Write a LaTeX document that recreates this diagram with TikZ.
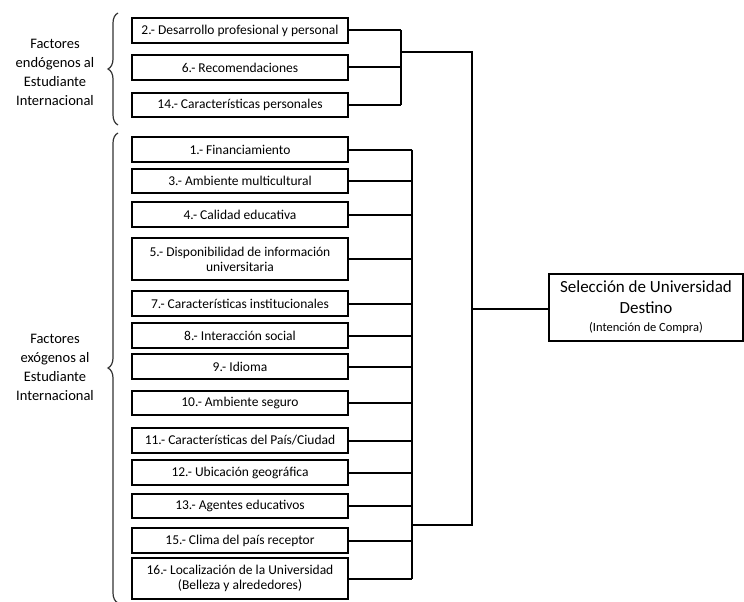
\documentclass[tikz,border=0pt]{standalone}
\usepackage{fontspec}
\setmainfont{Carlito}
\usetikzlibrary{positioning,calc,decorations.pathreplacing}

\begin{document}
\begin{tikzpicture}[x=1pt, y=-1pt,
    factor/.style={draw, line width=2.4pt, minimum width=216pt, inner sep=0pt,
                   align=center, font=\fontsize{13.5}{15}\selectfont},
    link/.style={line width=2pt},
    grupo/.style={align=center, font=\fontsize{14.5}{19}\selectfont},
    llave/.style={decorate, line width=1.2pt, draw=black!80,
                  decoration={brace, amplitude=10pt, aspect=0.5}}]
    \useasboundingbox (0,0) rectangle (744,602);

    % Factores endogenos
    \node[factor, minimum height=25pt] (f2)  at (240,30.5)  {2.- Desarrollo profesional y personal};
    \node[factor, minimum height=25pt] (f6)  at (240,67.5)  {6.- Recomendaciones};
    \node[factor, minimum height=24pt] (f14) at (240,105)   {14.- Características personales};

    % Factores exogenos
    \node[factor, minimum height=25pt] (f1)  at (240,149.5) {1.- Financiamiento};
    \node[factor, minimum height=24pt] (f3)  at (240,181)   {3.- Ambiente multicultural};
    \node[factor, minimum height=25pt] (f4)  at (240,214.5) {4.- Calidad educativa};
    \node[factor, minimum height=42pt] (f5)  at (240,259)   {5.- Disponibilidad de información\\universitaria};
    \node[factor, minimum height=25pt] (f7)  at (240,303.5) {7.- Características institucionales};
    \node[factor, minimum height=25pt] (f8)  at (240,335.5) {8.- Interacción social};
    \node[factor, minimum height=25pt] (f9)  at (240,366.5) {9.- Idioma};
    \node[factor, minimum height=24pt] (f10) at (240,403)   {10.- Ambiente seguro};
    \node[factor, minimum height=25pt] (f11) at (240,440.5) {11.- Características del País/Ciudad};
    \node[factor, minimum height=25pt] (f12) at (240,472.5) {12.- Ubicación geográfica};
    \node[factor, minimum height=24pt] (f13) at (240,506)   {13.- Agentes educativos};
    \node[factor, minimum height=25pt] (f15) at (240,540.5) {15.- Clima del país receptor};
    \node[factor, minimum height=41pt] (f16) at (240,578.5) {16.- Localización de la Universidad\\(Belleza y alrededores)};

    % Destino
    \node[draw, line width=2pt, minimum width=194pt, minimum height=67pt, inner sep=0pt,
          align=center, font=\fontsize{17}{21}\selectfont] (sel) at (646,307.5)
          {Selección de Universidad\\ Destino\\[-3pt]
           {\fontsize{12.5}{14}\selectfont (Intención de Compra)}};

    % Llaves y etiquetas
    \draw[llave] (118,125) -- (118,13);
    \draw[llave] (118,603) -- (118,133);
    \node[grupo] (endo) at (55,72)  {Factores\\endógenos al\\Estudiante\\Internacional};
    \node[grupo] (exo)  at (55,367) {Factores\\exógenos al\\Estudiante\\Internacional};

    % Conectores
    \coordinate (busA) at (401,52);
    \coordinate (busB) at (412,525);
    \coordinate (hub)  at (472,309);
    \foreach \f in {f2,f6,f14}
        \draw[link] (\f.east) -- (\f.east -| busA);
    \draw[link] (f2.east -| busA) -- (f14.east -| busA);
    \foreach \f in {f1,f3,f4,f5,f7,f8,f9,f10,f11,f12,f13,f15,f16}
        \draw[link] (\f.east) -- (\f.east -| busB);
    \draw[link] (f1.east -| busB) -- (f16.east -| busB);
    \draw[link] (busA) -- (busA -| hub) -- (busB -| hub) -- (busB);
    \draw[link] (hub) -- (sel.west |- hub);
\end{tikzpicture}
\end{document}
